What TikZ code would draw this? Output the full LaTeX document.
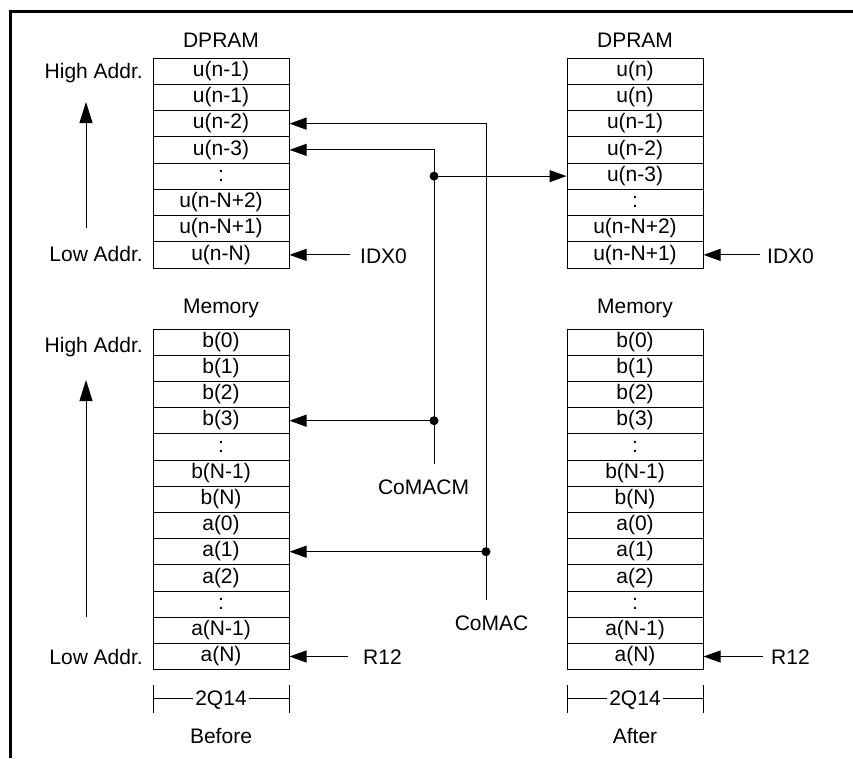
\documentclass[tikz,border=0pt]{standalone}
\usepackage{fontspec}
\setmainfont{Liberation Sans}
\usetikzlibrary{arrows.meta}
\begin{document}
\begin{tikzpicture}[x=1pt,y=-1pt,
  every node/.style={font=\fontsize{21}{25}\selectfont, inner sep=0pt, text height=15pt, text depth=4.5pt},
  cell/.style={draw, line width=1pt, minimum width=136pt, minimum height=26.25pt, anchor=center},
  mcell/.style={cell, minimum height=26.2pt},
  arr/.style={-{Triangle[length=17pt,width=12pt]}, line width=1pt},
  uparr/.style={-{Triangle[length=21pt,width=13pt]}, line width=1pt},
  wire/.style={line width=1pt},
  frame/.style={line width=3pt},
  dot/.style={fill=black}
]
\useasboundingbox (0,0) rectangle (853,758);
\fill[white] (0,0) rectangle (853,758);
% frame (top and left edges)
\draw[frame] (853,11.5) -- (10.5,11.5) -- (10.5,758);

% ---------- Left DPRAM ----------
\node (dpL) at (221,42.4) {DPRAM};
\foreach \t [count=\i] in {{u(n-1)},{u(n-1)},{u(n-2)},{u(n-3)},{:},{u(n-N+2)},{u(n-N+1)},{u(n-N)}}
  \node[cell] (L\i) at (221,{58+13.125+26.25*(\i-1)}) {\t};
\node[anchor=east] (hiL) at (143,73.5) {High Addr.};
\node[anchor=east] (loL) at (143,256.5) {Low Addr.};
\coordinate (upL1) at (86,228);
\coordinate (upL2) at (86,102);
\draw[uparr] (upL1) -- (upL2);
\node[anchor=west] (idxL) at (360,258.5) {IDX0};
\draw[arr] (L8.east -| idxL.west) ++(-10,0) -- (L8.east);

% ---------- Right DPRAM ----------
\node (dpR) at (635,42.4) {DPRAM};
\foreach \t [count=\i] in {{u(n)},{u(n)},{u(n-1)},{u(n-2)},{u(n-3)},{:},{u(n-N+2)},{u(n-N+1)}}
  \node[cell] (R\i) at (635,{58+13.125+26.25*(\i-1)}) {\t};
\node[anchor=west] (idxR) at (767,258.5) {IDX0};
\draw[arr] (R8.east -| idxR.west) ++(-7,0) -- (R8.east);

% ---------- Left Memory ----------
\node (memL) at (221,307.8) {Memory};
\foreach \t [count=\i] in {{b(0)},{b(1)},{b(2)},{b(3)},{:},{b(N-1)},{b(N)},{a(0)},{a(1)},{a(2)},{:},{a(N-1)},{a(N)}}
  \node[mcell] (LM\i) at (221,{329+13.1+26.2*(\i-1)}) {\t};
\node[anchor=east] (hiM) at (143,347.5) {High Addr.};
\node[anchor=east] (loM) at (143,659.5) {Low Addr.};
\coordinate (upM1) at (86,617);
\coordinate (upM2) at (86,380);
\draw[uparr] (upM1) -- (upM2);
\node[anchor=west] (r12L) at (363,659.5) {R12};
\draw[arr] (LM13.east -| r12L.west) ++(-15,0) -- (LM13.east);

% ---------- Right Memory ----------
\node (memR) at (635,307.8) {Memory};
\foreach \t [count=\i] in {{b(0)},{b(1)},{b(2)},{b(3)},{:},{b(N-1)},{b(N)},{a(0)},{a(1)},{a(2)},{:},{a(N-1)},{a(N)}}
  \node[mcell] (RM\i) at (635,{329+13.1+26.2*(\i-1)}) {\t};
\node[anchor=west] (r12R) at (771,659.5) {R12};
\draw[arr] (RM13.east -| r12R.west) ++(-8,0) -- (RM13.east);

% ---------- CoMACM ----------
\node (cmm) at (423.5,489.7) {CoMACM};
\coordinate (cmmE) at (434,464);
\draw[arr] (cmmE) |- (L4.east);
\coordinate (d1) at (cmmE |- R5.west);
\draw[arr] (d1) -- (R5.west);
\fill[dot] (d1) circle (4.5pt);
\coordinate (d2) at (cmmE |- LM4.east);
\draw[arr] (d2) -- (LM4.east);
\fill[dot] (d2) circle (4.5pt);

% ---------- CoMAC ----------
\node (cm) at (491.5,625.7) {CoMAC};
\coordinate (cmE) at (486,600);
\draw[arr] (cmE) |- (L3.east);
\coordinate (d3) at (cmE |- LM9.east);
\draw[arr] (d3) -- (LM9.east);
\fill[dot] (d3) circle (4.5pt);

% ---------- 2Q14 brackets ----------
\node[inner xsep=2pt] (qL) at (221,700) {2Q14};
\coordinate (qL1) at (153,685); \coordinate (qL2) at (153,713);
\coordinate (qL3) at (289,685); \coordinate (qL4) at (289,713);
\draw[wire] (qL1) -- (qL2);
\draw[wire] (qL3) -- (qL4);
\draw[wire] (qL.west |- 0,698) -- (153,698);
\draw[wire] (qL.east |- 0,698) -- (289,698);
\node (before) at (221,738) {Before};

\node[inner xsep=2pt] (qR) at (635,700) {2Q14};
\coordinate (qR1) at (567,685); \coordinate (qR2) at (567,713);
\coordinate (qR3) at (703,685); \coordinate (qR4) at (703,713);
\draw[wire] (qR1) -- (qR2);
\draw[wire] (qR3) -- (qR4);
\draw[wire] (qR.west |- 0,698) -- (567,698);
\draw[wire] (qR.east |- 0,698) -- (703,698);
\node (after) at (635,738) {After};
\end{tikzpicture}
\end{document}
